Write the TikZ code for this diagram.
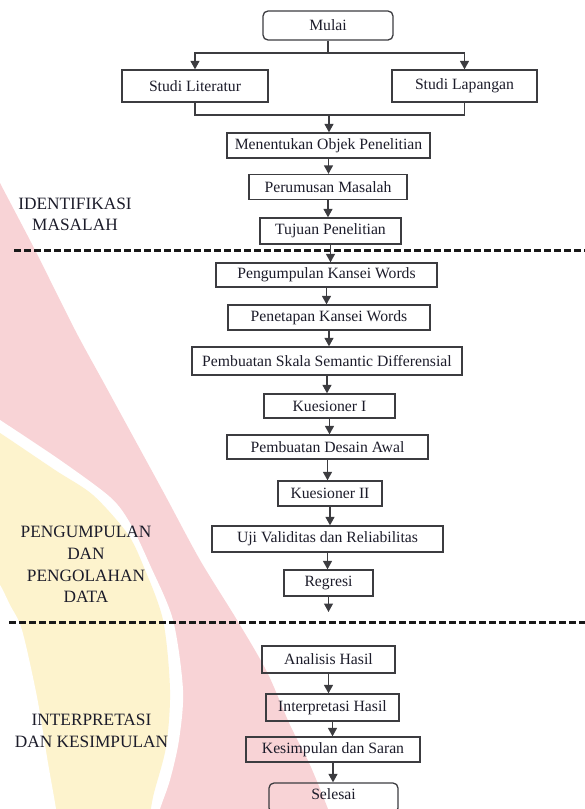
\documentclass[tikz,border=0pt]{standalone}
\usepackage{fontspec}
\setmainfont{Liberation Serif}
\usepackage{xcolor}
\usetikzlibrary{arrows.meta}
\definecolor{wmpink}{RGB}{248,211,214}
\definecolor{wmyellow}{RGB}{253,243,205}
\definecolor{boxline}{RGB}{60,60,64}
\definecolor{txtcol}{RGB}{28,28,42}

\begin{document}
\begin{tikzpicture}[x=1pt,y=-1pt,
    box/.style={draw=boxline,line width=1.3pt,minimum height=25pt,inner sep=0pt,text=txtcol,font=\fontsize{15.7}{18}\selectfont},
    term/.style={box,rounded corners=5pt},
    phase/.style={align=center,text=txtcol,font=\fontsize{17.3}{21.6}\selectfont},
    link/.style={draw=boxline,line width=1.3pt},
    arr/.style={link,-{Triangle[width=9pt,length=8.5pt]}},
    sep/.style={draw=black!90,line width=2.2pt,dash pattern=on 7pt off 3pt}
  ]
  \useasboundingbox (0,0) rectangle (585,809);
  % Watermark in the background (pink band, yellow band)
  \begin{scope}
    \clip (0,0) rectangle (585,809);
    \fill[wmpink] plot[smooth] coordinates {(-5,172) (0,183) (35,250) (75,330) (105,385) (135,440) (165,495) (200,560) (237,620) (267,672) (290,725) (310,765) (328,809) (335,830)} -- (-10,830) -- cycle;
    \fill[white] plot[smooth] coordinates {(-10,414) (0,420) (60,460) (110,497) (130,523) (150,565) (173,620) (183,690) (179,740) (170,780) (160,809) (155,830)} -- (-10,830) -- cycle;
    \fill[wmyellow] plot[smooth] coordinates {(-10,428) (0,433) (55,470) (93,495) (127,533) (143,565) (163,620) (170,690) (166,747) (153,797) (148,830)} -- (-10,830) -- cycle;
    \fill[white] plot[smooth] coordinates {(-10,575) (0,585) (10,605) (22,630) (37,697) (48,763) (56,809) (58,830)} -- (-10,830) -- cycle;
  \end{scope}
  % Phase labels
  \node[phase] (idmasalah) at (75,214.5) {IDENTIFIKASI\\MASALAH};
  \node[phase] (olahdata) at (86,564.5) {PENGUMPULAN\\DAN\\PENGOLAHAN\\DATA};
  \node[phase] (interpkes) at (91.5,731) {INTERPRETASI\\DAN KESIMPULAN};
  % Phase separators
  \draw[sep] (14,250.5) -- (585,250.5);
  \draw[sep] (9,622.5) -- (585,622.5);
  % Start and the two studies
  \node[term,minimum width=130pt,minimum height=29pt] (mulai) at (328,25.5) {Mulai};
  \node[box,minimum width=146pt,minimum height=32pt] (lit) at (195,86) {Studi Literatur};
  \node[box,minimum width=145pt,minimum height=32pt] (lap) at (464.5,86) {Studi Lapangan};
  \coordinate (fork) at (328,53);
  \coordinate (join) at (329,115);
  \draw[link] (mulai) -- (fork);
  \draw[arr] (fork) -| (lit.north);
  \draw[arr] (fork) -| (lap.north);
  \draw[link] (lit.south) |- (join) -| (lap.south);
  % Identifikasi masalah
  \node[box,minimum width=203pt] (objek) at (328.5,145.5) {Menentukan Objek Penelitian};
  \node[box,minimum width=158pt] (rumus) at (328,187) {Perumusan Masalah};
  \node[box,minimum width=141pt,minimum height=26pt] (tujuan) at (330.5,231) {Tujuan Penelitian};
  % Pengumpulan dan pengolahan data
  \node[box,minimum width=221pt,minimum height=24pt] (kumpul) at (326.5,275) {Pengumpulan Kansei Words};
  \node[box,minimum width=202pt] (tetap) at (329,317.5) {Penetapan Kansei Words};
  \node[box,minimum width=270pt,minimum height=28pt] (skala) at (327,361) {Pembuatan Skala Semantic Differensial};
  \node[box,minimum width=131pt,minimum height=24pt] (kues1) at (329.5,406) {Kuesioner I};
  \node[box,minimum width=201pt,minimum height=24pt] (desain) at (327.5,447) {Pembuatan Desain Awal};
  \node[box,minimum width=104pt] (kues2) at (330,493.5) {Kuesioner II};
  \node[box,minimum width=231pt,minimum height=26pt] (uji) at (327.5,539) {Uji Validitas dan Reliabilitas};
  \node[box,minimum width=89pt,minimum height=26pt] (regresi) at (328.5,583) {Regresi};
  \coordinate (regend) at (328.5,612);
  % Interpretasi dan kesimpulan
  \node[box,minimum width=133pt,minimum height=27pt] (analisis) at (328.5,659.5) {Analisis Hasil};
  \node[box,minimum width=133pt,minimum height=27pt] (interp) at (332.5,707.5) {Interpretasi Hasil};
  \node[box,minimum width=174pt] (simpul) at (333,749.5) {Kesimpulan dan Saran};
  \node[term,minimum width=129pt,minimum height=30pt,text depth=8pt] (selesai) at (333.5,798) {Selesai};
  % Flow arrows
  \draw[arr] (join) -- (join |- objek.north);
  \draw[arr] (objek) -- (objek |- rumus.north);
  \draw[arr] (rumus) -- (rumus |- tujuan.north);
  \draw[arr] (tujuan) -- (tujuan |- kumpul.north);
  \draw[arr] (kumpul) -- (kumpul |- tetap.north);
  \draw[arr] (tetap) -- (tetap |- skala.north);
  \draw[arr] (skala) -- (skala |- kues1.north);
  \draw[arr] (kues1) -- (kues1 |- desain.north);
  \draw[arr] (desain) -- (desain |- kues2.north);
  \draw[arr] (kues2) -- (kues2 |- uji.north);
  \draw[arr] (uji) -- (uji |- regresi.north);
  \draw[arr] (regresi) -- (regend);
  \draw[arr] (analisis) -- (analisis |- interp.north);
  \draw[arr] (interp) -- (interp |- simpul.north);
  \draw[arr] (simpul) -- (simpul |- selesai.north);
\end{tikzpicture}
\end{document}
